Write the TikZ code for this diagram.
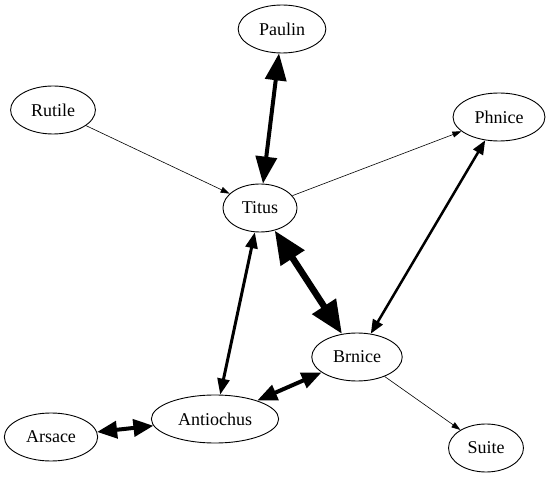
\documentclass[tikz,border=0pt]{standalone}
\usepackage{fontspec}
\setmainfont{Liberation Serif}
\usetikzlibrary{arrows.meta, shapes.geometric}

\begin{document}
\begin{tikzpicture}[x=1pt,y=-1pt,
  main node/.style={ellipse,draw,line width=0.9pt,inner xsep=8pt,inner ysep=0pt,
    minimum height=48pt,font=\fontsize{18}{20}\selectfont},
  one way/.style={-{Triangle[length=9pt,width=6pt]},line width=0.6pt},
  two way/.style n args={3}{{Triangle[length=#2,width=#3]}-{Triangle[length=#2,width=#3]},line width=#1}]
  \useasboundingbox (0,0) rectangle (549,478);
  \node[main node] (paulin) at (282,29) {Paulin};
  \node[main node] (rutile) at (53,110) {Rutile};
  \node[main node] (phnice) at (499,117) {Phnice};
  \node[main node] (titus) at (260,208) {Titus};
  \node[main node] (brnice) at (357,357) {Brnice};
  \node[main node] (antiochus) at (215,419) {Antiochus};
  \node[main node] (arsace) at (51,437) {Arsace};
  \node[main node] (suite) at (486,448) {Suite};
  \path
    (titus) edge[two way={4pt}{27pt}{21pt}] (paulin)
    (rutile) edge[one way] (titus)
    (titus) edge[one way] (phnice)
            edge[two way={6.5pt}{33pt}{27pt}] (brnice)
            edge[two way={3pt}{16pt}{12pt}] (antiochus)
    (phnice) edge[two way={2.5pt}{14pt}{11pt}] (brnice)
    (brnice) edge[two way={4pt}{20pt}{16pt}] (antiochus)
             edge[one way] (suite)
    (arsace) edge[two way={4pt}{20pt}{17pt}] (antiochus);
\end{tikzpicture}
\end{document}
